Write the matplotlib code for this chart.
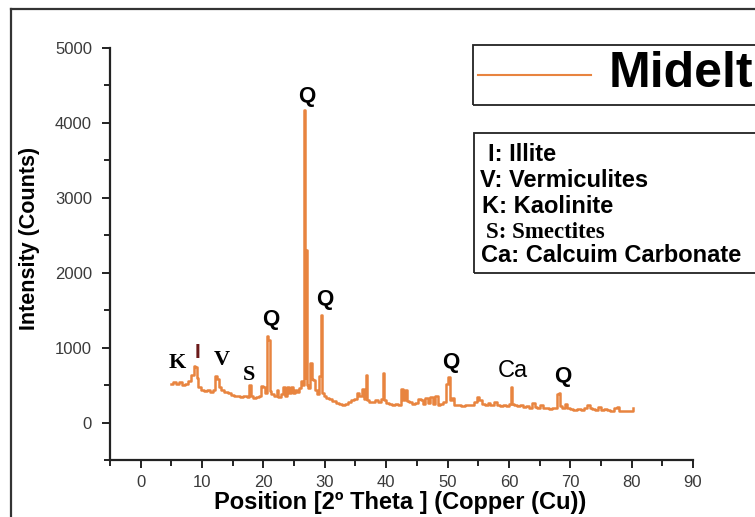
import matplotlib
matplotlib.use("Agg")
import matplotlib.pyplot as plt
from matplotlib.patches import Rectangle
from matplotlib.lines import Line2D
from matplotlib.ticker import MultipleLocator

plt.rcParams['font.family'] = ['Liberation Sans', 'DejaVu Sans']

# ---- data ----
two_theta = [5.0, 5.5, 6.0, 6.5, 7.0, 7.5, 8.0, 8.5, 8.8, 9.0, 9.2, 9.6, 10.0, 10.5, 11.0, 11.5,
             12.0, 12.3, 12.6, 12.9, 13.3, 14.0, 14.5, 15.0, 15.5, 16.0, 16.5, 17.0, 17.5, 17.9,
             18.1, 18.6, 19.0, 19.5, 19.8, 20.1, 20.4, 20.7, 20.9, 21.1, 21.5, 22.0, 22.3, 22.6,
             23.0, 23.3, 23.6, 24.0, 24.3, 24.6, 25.0, 25.3, 25.6, 26.0, 26.3, 26.5, 26.65, 26.8,
             26.95, 27.1, 27.5, 27.8, 28.0, 28.3, 28.6, 28.9, 29.2, 29.45, 29.7, 30.0, 30.5, 31.0,
             31.5, 32.0, 32.5, 33.0, 33.5, 34.0, 34.5, 35.0, 35.4, 35.8, 36.2, 36.5, 36.8, 37.0,
             37.5, 38.0, 38.5, 39.0, 39.3, 39.6, 39.8, 40.2, 40.7, 41.2, 41.7, 42.2, 42.6, 42.9,
             43.3, 43.6, 44.0, 44.5, 45.0, 45.4, 45.8, 46.2, 46.6, 47.0, 47.4, 47.8, 48.2, 48.6,
             49.0, 49.5, 50.0, 50.2, 50.5, 50.9, 51.2, 51.8, 52.5, 53.3, 54.0, 54.6, 55.0, 55.4,
             55.8, 56.3, 56.8, 57.2, 57.8, 58.3, 58.8, 59.3, 59.8, 60.2, 60.4, 60.6, 61.0, 61.5,
             62.0, 62.5, 63.0, 63.5, 64.0, 64.4, 64.8, 65.3, 65.8, 66.3, 66.8, 67.3, 67.8, 68.0,
             68.3, 68.5, 68.9, 69.3, 69.6, 70.2, 70.8, 71.5, 72.0, 72.6, 73.0, 73.4, 73.8, 74.3,
             74.8, 75.2, 75.7, 76.3, 76.8, 77.3, 77.8, 78.2, 78.8, 79.5, 80.0, 80.3]
intensity = [520, 540, 510, 545, 500, 520, 560, 640, 760, 740, 600, 470, 440, 420, 440, 410,
             430, 620, 580, 470, 430, 410, 400, 370, 350, 360, 340, 350, 340, 500,
             350, 330, 340, 360, 490, 470, 400, 1150, 1100, 420, 380, 360, 430, 340,
             380, 470, 360, 480, 390, 470, 400, 440, 410, 460, 560, 500, 4170, 600,
             2300, 500, 460, 800, 580, 570, 430, 380, 620, 1440, 400, 350, 330, 310,
             290, 260, 250, 240, 250, 270, 300, 320, 400, 350, 450, 320, 640, 300,
             280, 270, 300, 280, 320, 660, 300, 260, 250, 240, 250, 240, 450, 300,
             440, 290, 270, 250, 260, 320, 300, 250, 330, 260, 340, 250, 350, 240,
             250, 270, 520, 610, 300, 330, 240, 230, 220, 230, 240, 280, 340, 300,
             250, 230, 260, 240, 280, 230, 220, 240, 220, 250, 480, 250, 240, 220,
             230, 210, 220, 200, 260, 210, 190, 240, 200, 190, 180, 190, 200, 380,
             400, 220, 190, 250, 190, 180, 170, 180, 170, 200, 230, 200, 180, 170,
             210, 170, 180, 170, 160, 200, 210, 160, 160, 150, 150, 190]

peak_labels = ['Q', 'Q', 'Q', 'K', 'I', 'V', 'S', 'Q', 'Ca', 'Q']
peak_label_x = [27.0, 30.0, 21.2, 6.0, 9.3, 13.2, 17.6, 50.5, 60.6, 68.7]
peak_label_y = [4346, 1640, 1373, 800, 933, 840, 640, 800, 693, 613]

x_ticks = [0, 10, 20, 30, 40, 50, 60, 70, 80, 90]
y_ticks = [0, 1000, 2000, 3000, 4000, 5000]

key_lines = ['I: Illite', 'V: Vermiculites', 'K: Kaolinite', 'S: Smectites', 'Ca: Calcuim Carbonate']

series_name = 'Midelt'
line_color = '#E8843F'

W, H = 755, 517
fig = plt.figure(figsize=(W / 100, H / 100), dpi=100)
ax = fig.add_axes([110 / W, 1 - 460 / H, (693 - 110) / W, (460 - 48) / H])

ax.plot(two_theta, intensity, color=line_color, lw=1.8, drawstyle='steps-mid')

ax.set_xlim(-5, 90)
ax.set_ylim(-500, 5000)
ax.set_xticks(x_ticks)
ax.set_yticks(y_ticks)
ax.xaxis.set_minor_locator(MultipleLocator(5))
ax.yaxis.set_minor_locator(MultipleLocator(500))
for s in ['top', 'right']:
    ax.spines[s].set_visible(False)
for s in ['left', 'bottom']:
    ax.spines[s].set_linewidth(1.6)
    ax.spines[s].set_color('#222222')
ax.tick_params(which='major', direction='out', length=6, width=1.4, color='#222222',
               labelsize=12, labelcolor='#3a3a3a')
ax.tick_params(which='minor', direction='out', length=4, width=1.4, color='#222222')
ax.tick_params(axis='y', pad=7)
ax.tick_params(axis='x', pad=5)

ax.set_xlabel('Position [2º Theta ] (Copper (Cu))', fontsize=17, fontweight='bold')
ax.xaxis.set_label_coords((400 - 110) / 583, -(503 - 460) / 412)
ax.set_ylabel('Intensity (Counts)', fontsize=15.5, fontweight='bold')
ax.yaxis.set_label_coords(-(110 - 30) / 583, (460 - 238) / 412)
ax.xaxis.label.set_va('center')
ax.yaxis.label.set_va('center')

serif_labels = {'K', 'V', 'S'}
for lab, lx, ly in zip(peak_labels, peak_label_x, peak_label_y):
    if lab in serif_labels:
        ax.text(lx, ly, lab, ha='center', va='center', fontsize=16, fontweight='bold',
                family=['Liberation Serif', 'DejaVu Serif'], color='black')
    elif lab == 'I':
        ax.text(lx, ly, lab, ha='center', va='center', fontsize=15, fontweight='bold',
                color='#6b1a1a')
    elif lab == 'Ca':
        ax.text(lx, ly, lab, ha='center', va='center', fontsize=17, color='black')
    else:
        ax.text(lx, ly, lab, ha='center', va='center', fontsize=16, fontweight='bold', color='black')

# outer frame
fig.add_artist(Line2D([11 / W, 11 / W], [0, 1 - 9 / H], color='#333333', lw=1.6))
fig.add_artist(Line2D([11 / W, 1.0], [1 - 9 / H, 1 - 9 / H], color='#333333', lw=1.6))

# legend box (series)
fig.add_artist(Rectangle((473 / W, 1 - 105 / H), 400 / W, 60 / H, transform=fig.transFigure,
                         fill=False, edgecolor='#222222', lw=1.3))
fig.add_artist(Line2D([478 / W, 591 / W], [1 - 75 / H, 1 - 75 / H], color=line_color, lw=1.5))
fig.text(609 / W, 1 - 74 / H, series_name, fontsize=36, fontweight='bold', ha='left', va='center')

# key box
fig.add_artist(Rectangle((474 / W, 1 - 273 / H), 400 / W, 140 / H, transform=fig.transFigure,
                         fill=False, edgecolor='#222222', lw=1.3))
key_x = [488, 480, 482, 486, 481]
key_y = [155, 181, 207, 232, 255]
for txt, kx, ky in zip(key_lines, key_x, key_y):
    if txt.startswith('S:'):
        fig.text(kx / W, 1 - ky / H, txt, fontsize=16.5, fontweight='bold', ha='left', va='center',
                 family=['Liberation Serif', 'DejaVu Serif'])
    else:
        fig.text(kx / W, 1 - ky / H, txt, fontsize=17, fontweight='bold', ha='left', va='center')

fig.savefig('out.png', dpi=100)
